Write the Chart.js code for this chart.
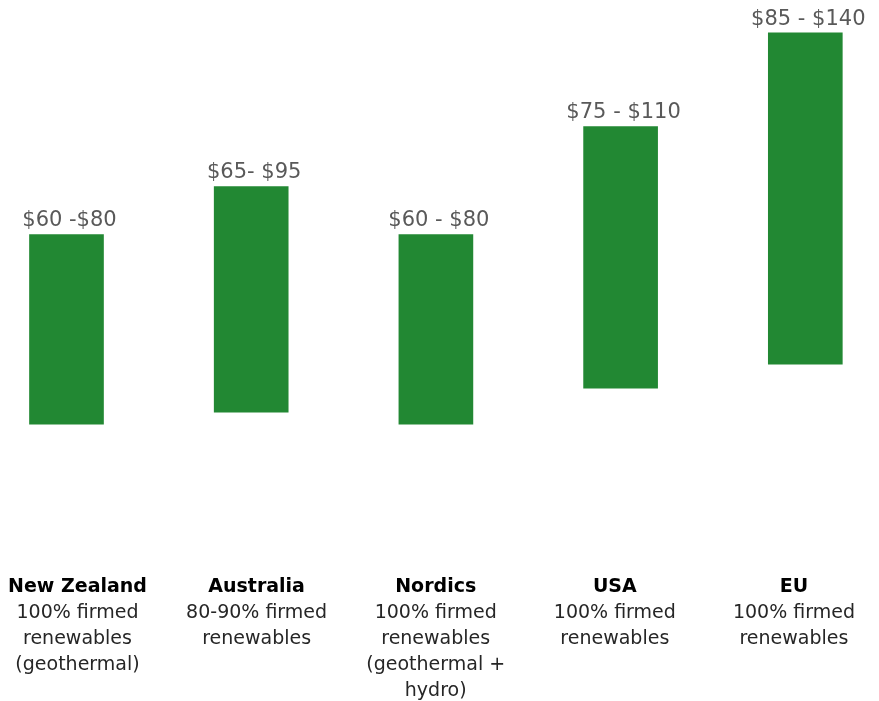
<!DOCTYPE html>
<html>
<head>
<meta charset="utf-8">
<script src="https://cdn.jsdelivr.net/npm/chart.js@4/dist/chart.umd.min.js"></script>
<style>
  html, body { margin: 0; padding: 0; background: #fff; }
  #wrap { width: 879px; height: 701px; }
</style>
</head>
<body>
<div id="wrap"><canvas id="priceChart"></canvas></div>
<script>
// Regions and their descriptions
const regions = ["New Zealand", "Australia", "Nordics", "USA", "EU"];
const regionNotes = [
    ["100% firmed", "renewables", "(geothermal)"],
    ["80-90% firmed", "renewables"],
    ["100% firmed", "renewables", "(geothermal +", "hydro)"],
    ["100% firmed", "renewables"],
    ["100% firmed", "renewables"]
];
// Price range labels shown above each bar
const rangeLabels = ["$60 -$80", "$65- $95", "$60 - $80", "$75 - $110", "$85 - $140"];
// Bar extents as drawn (in $/MWh-like units)
const barLow = [60, 65, 60, 75, 85];
const barHigh = [139, 159, 139, 184, 223];

const barColor = "#228833";

// floating bars: each point is {x: index, y: [low, high]}
const barData = regions.map((r, i) => ({ x: i, y: [barLow[i], barHigh[i]] }));

// Draw the value labels and the multi-line category labels
const labelPlugin = {
    id: "labels",
    afterDatasetsDraw(chart) {
        const ctx = chart.ctx;
        const meta = chart.getDatasetMeta(0);
        ctx.save();
        ctx.textAlign = "center";
        ctx.textBaseline = "alphabetic";

        // range labels above bars
        ctx.font = "21px 'DejaVu Sans'";
        ctx.fillStyle = "#595959";
        meta.data.forEach((bar, i) => {
            ctx.fillText(rangeLabels[i], bar.x + 3, bar.y - 8);
        });

        // category labels at the bottom
        const xl = chart.scales.xl;
        const baseY = chart.chartArea.bottom - 109;
        regions.forEach((name, i) => {
            const x = xl.getPixelForValue(i);
            ctx.font = "bold 19px 'DejaVu Sans'";
            ctx.fillStyle = "#000";
            ctx.fillText(name, x, baseY);
            ctx.font = "19px 'DejaVu Sans'";
            ctx.fillStyle = "#262626";
            regionNotes[i].forEach((line, j) => {
                ctx.fillText(line, x, baseY + 26 * (j + 1));
            });
        });
        ctx.restore();
    }
};

new Chart(document.getElementById("priceChart"), {
    type: "bar",
    data: {
        datasets: [{
            data: barData,
            backgroundColor: barColor,
            borderWidth: 0,
            barThickness: 74,
            clip: false
        }]
    },
    options: {
        responsive: true,
        maintainAspectRatio: false,
        animation: false,
        layout: { padding: 0 },
        plugins: {
            legend: { display: false },
            tooltip: { enabled: false }
        },
        scales: {
            x: { type: "linear", offset: false, min: -0.360, max: 4.399, display: false },
            xl: { type: "linear", axis: "x", offset: false, min: -0.4327, max: 4.475, display: false },
            y: { min: -55.4, max: 236.7, display: false }
        }
    },
    plugins: [labelPlugin]
});
</script>
</body>
</html>
